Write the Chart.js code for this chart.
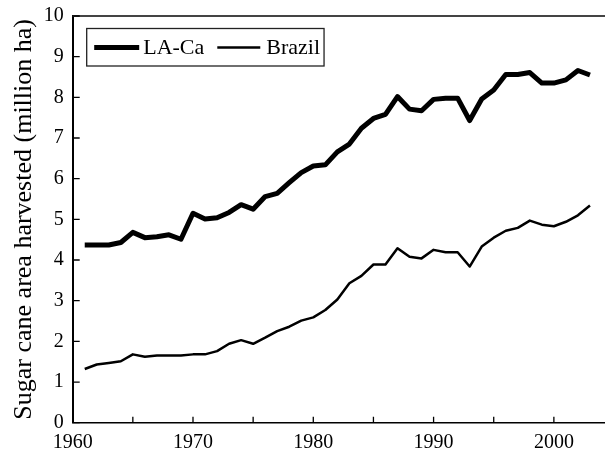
<!DOCTYPE html>
<html>
<head>
<meta charset="utf-8">
<script src="https://cdn.jsdelivr.net/npm/chart.js@4/dist/chart.umd.min.js"></script>
<style>
  html, body { margin: 0; padding: 0; background: #ffffff; }
  #wrap { width: 605px; height: 452px; }
</style>
</head>
<body>
<div id="wrap"><canvas id="c" width="605" height="452"></canvas></div>
<script>
const years = [1961,1962,1963,1964,1965,1966,1967,1968,1969,1970,
               1971,1972,1973,1974,1975,1976,1977,1978,1979,1980,
               1981,1982,1983,1984,1985,1986,1987,1988,1989,1990,
               1991,1992,1993,1994,1995,1996,1997,1998,1999,2000,
               2001,2002,2003];
const laCa = [4.37,4.37,4.37,4.43,4.68,4.55,4.57,4.62,4.51,5.15,
              5.01,5.04,5.17,5.36,5.25,5.56,5.64,5.90,6.15,6.31,
              6.34,6.66,6.85,7.24,7.48,7.58,8.02,7.71,7.67,7.95,
              7.98,7.98,7.43,7.96,8.18,8.56,8.56,8.61,8.35,8.35,
              8.43,8.66,8.55];
const brazil = [1.32,1.43,1.47,1.51,1.68,1.62,1.65,1.65,1.65,1.68,
                1.68,1.76,1.94,2.03,1.94,2.09,2.25,2.36,2.51,2.59,
                2.77,3.03,3.43,3.61,3.89,3.89,4.29,4.08,4.04,4.25,
                4.19,4.19,3.84,4.33,4.55,4.72,4.79,4.97,4.87,4.83,
                4.94,5.10,5.34];
const seriesNames = ['LA-Ca', 'Brazil'];
const xTicks = [1960,1965,1970,1975,1980,1985,1990,1995,2000];
const yTicks = [0,1,2,3,4,5,6,7,8,9,10];
const yTitle = 'Sugar cane area harvested (million ha)';

const SERIF = '"Liberation Serif", "Times New Roman", serif';

const framePlugin = {
  id: 'frame',
  afterDraw(chart) {
    const ctx = chart.ctx;
    const a = chart.chartArea;
    const xs = chart.scales.x, ys = chart.scales.y;
    ctx.save();
    // top border
    ctx.strokeStyle = '#444444';
    ctx.lineWidth = 2;
    ctx.beginPath();
    ctx.moveTo(a.left, a.top);
    ctx.lineTo(a.right, a.top);
    ctx.stroke();
    // inward tick marks
    ctx.strokeStyle = '#000000';
    ctx.lineWidth = 1.3;
    ctx.beginPath();
    xs.ticks.forEach(t => {
      const px = xs.getPixelForValue(t.value);
      if (px <= a.left + 1) return;
      ctx.moveTo(px, a.bottom);
      ctx.lineTo(px, a.bottom - 6);
    });
    ys.ticks.forEach(t => {
      const py = ys.getPixelForValue(t.value);
      ctx.moveTo(a.left, py);
      ctx.lineTo(a.left + 7, py);
    });
    ctx.stroke();
    ctx.restore();
  }
};

const legendPlugin = {
  id: 'boxLegend',
  afterDraw(chart) {
    const ctx = chart.ctx;
    const a = chart.chartArea;
    const boxL = a.left + 14, boxT = a.top + 12.5, boxH = 37.5;
    ctx.save();
    ctx.font = '22px ' + SERIF;
    ctx.textBaseline = 'alphabetic';
    ctx.fillStyle = '#000';
    let x = boxL + 7.5;
    const midY = boxT + 19;
    const baseY = boxT + 25;
    chart.data.datasets.forEach((ds, i) => {
      const sampleW = i === 0 ? 45 : 43;
      ctx.strokeStyle = ds.borderColor;
      ctx.lineWidth = ds.borderWidth;
      ctx.beginPath();
      ctx.moveTo(x, midY);
      ctx.lineTo(x + sampleW, midY);
      ctx.stroke();
      x += sampleW + (i === 0 ? 4 : 6);
      ctx.fillText(ds.label, x, baseY);
      x += ctx.measureText(ds.label).width + 13;
    });
    const boxR = x - 13 + 4;
    ctx.strokeStyle = '#222';
    ctx.lineWidth = 1.3;
    ctx.strokeRect(boxL, boxT, boxR - boxL, boxH);
    ctx.restore();
  }
};

new Chart(document.getElementById('c'), {
  type: 'line',
  data: {
    datasets: [
      {
        label: seriesNames[0],
        data: years.map((y, i) => ({ x: y, y: laCa[i] })),
        borderColor: '#000000',
        backgroundColor: '#000000',
        borderWidth: 5,
        pointRadius: 0,
        tension: 0,
        borderJoinStyle: 'round',
        borderCapStyle: 'butt'
      },
      {
        label: seriesNames[1],
        data: years.map((y, i) => ({ x: y, y: brazil[i] })),
        borderColor: '#000000',
        backgroundColor: '#000000',
        borderWidth: 2.5,
        pointRadius: 0,
        tension: 0,
        borderJoinStyle: 'round',
        borderCapStyle: 'butt'
      }
    ]
  },
  options: {
    responsive: false,
    animation: false,
    devicePixelRatio: 1,
    layout: { padding: { top: 16, right: 0, left: 0, bottom: 0 } },
    plugins: {
      legend: { display: false },
      tooltip: { enabled: false }
    },
    scales: {
      x: {
        type: 'linear',
        min: 1960,
        max: 2004.25,
        afterBuildTicks: (s) => { s.ticks = xTicks.map(v => ({ value: v })); },
        afterFit: (s) => { s.height = 29.3; s.paddingLeft = 0; s.paddingRight = 0; },
        grid: { display: true, drawOnChartArea: false, drawTicks: false, color: 'rgba(0,0,0,0)' },
        border: { display: true, color: '#000000', width: 1.5 },
        ticks: {
          autoSkip: false,
          maxRotation: 0,
          padding: 8,
          color: '#000000',
          font: { family: SERIF, size: 20 },
          callback: (v) => (v % 10 === 0 ? String(v) : '')
        }
      },
      y: {
        min: 0,
        max: 10,
        afterBuildTicks: (s) => { s.ticks = yTicks.map(v => ({ value: v })); },
        afterFit: (s) => { s.width = 72.7; s.paddingTop = 0; s.paddingBottom = 0; },
        grid: { display: true, drawOnChartArea: false, drawTicks: false, color: 'rgba(0,0,0,0)' },
        border: { display: true, color: '#000000', width: 2 },
        ticks: {
          padding: 9,
          color: '#000000',
          font: { family: SERIF, size: 20 },
          callback: (v) => String(v)
        },
        title: {
          display: true,
          text: yTitle,
          color: '#000000',
          font: { family: SERIF, size: 26, lineHeight: 1.2 },
          padding: { top: 8.4, bottom: 0 }
        }
      }
    }
  },
  plugins: [framePlugin, legendPlugin]
});
</script>
</body>
</html>
